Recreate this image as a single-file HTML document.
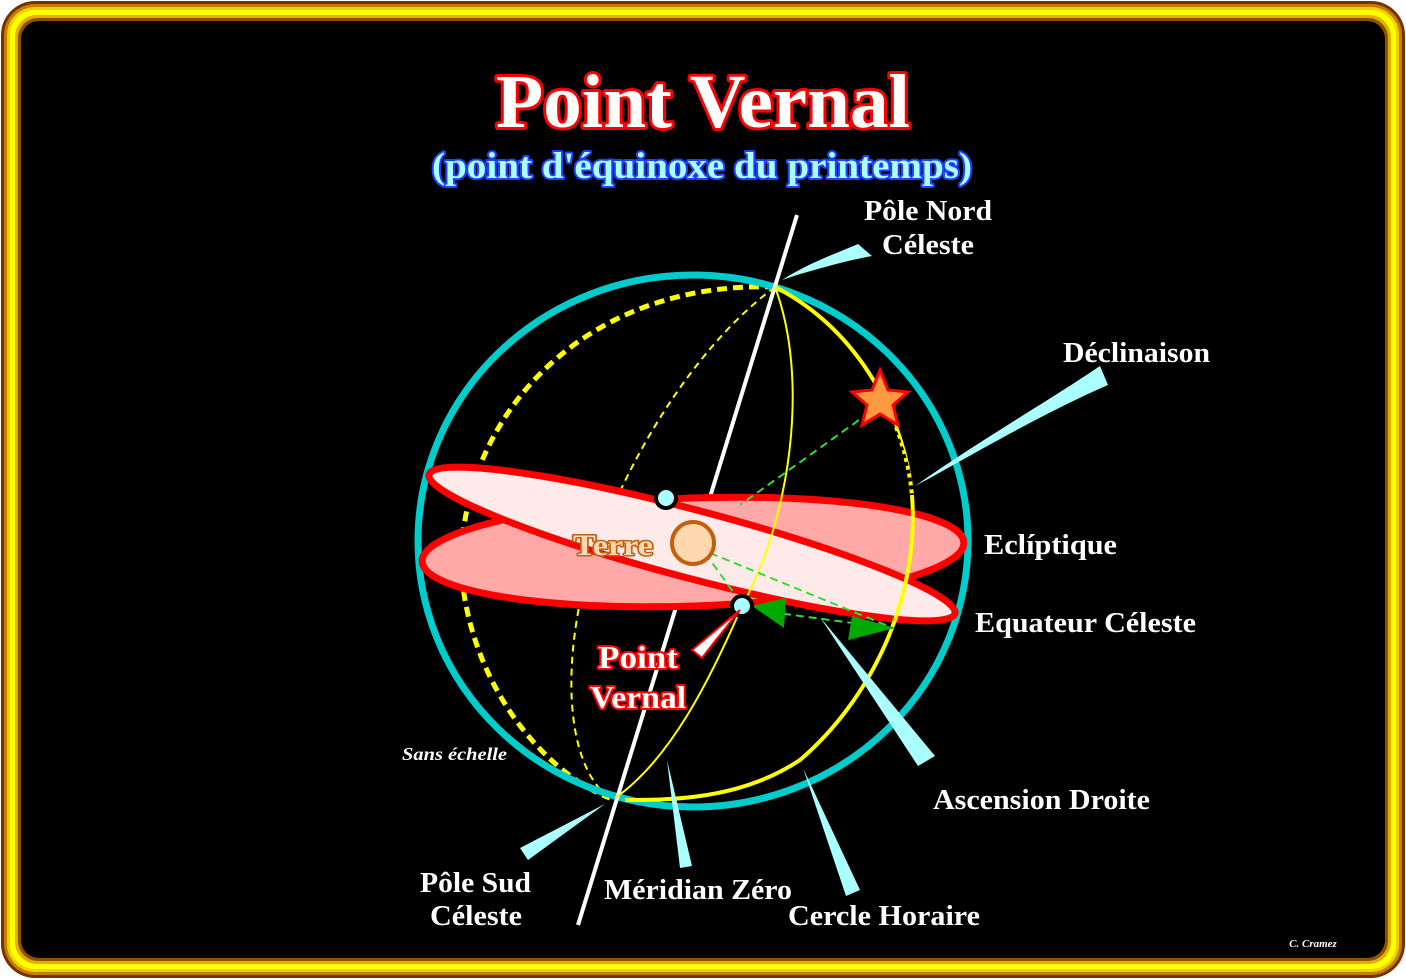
<!DOCTYPE html>
<html><head><meta charset="utf-8"><style>
html,body{margin:0;padding:0;background:#fff;}
svg{display:block;}
text{font-family:"Liberation Serif",serif;font-weight:bold;}
.o{paint-order:stroke fill;stroke-linejoin:round;}
</style></head><body>
<svg width="1406" height="979" viewBox="0 0 1406 979" xmlns="http://www.w3.org/2000/svg">
<rect x="0" y="0" width="1406" height="979" fill="#fff"/>
<rect x="1" y="1" width="1404" height="977" rx="34" fill="#7a3000"/>
<rect x="4" y="4" width="1398" height="971" rx="31" fill="#c08000"/>
<rect x="7" y="7" width="1392" height="965" rx="28" fill="#f0d000"/>
<rect x="10" y="10" width="1386" height="959" rx="25" fill="#ffff00"/>
<rect x="15" y="15" width="1376" height="949" rx="22" fill="#e0b000"/>
<rect x="18" y="18" width="1370" height="943" rx="20" fill="#905000"/>
<rect x="21" y="21" width="1364" height="937" rx="18" fill="#000"/>

<text class="o" x="703" y="127" font-size="76" fill="#fff" stroke="#ff0000" stroke-width="6" text-anchor="middle" textLength="414" lengthAdjust="spacingAndGlyphs">Point Vernal</text>
<text class="o" x="702" y="178" font-size="37" fill="#aaffff" stroke="#2040ff" stroke-width="4" text-anchor="middle" textLength="540" lengthAdjust="spacingAndGlyphs">(point d'équinoxe du printemps)</text>

<path d="M775,287 C560,280 440,450 465,600 C485,710 560,780 610,798" fill="none" stroke="#ffff00" stroke-width="5" stroke-dasharray="10,6"/>
<path d="M775,287 C690,350 620,470 585,580 C560,680 570,770 610,798" fill="none" stroke="#ffff00" stroke-width="2" stroke-dasharray="7,5"/>

<ellipse cx="693" cy="541" rx="275" ry="266" fill="none" stroke="#00cccc" stroke-width="7"/>

<line x1="797" y1="215" x2="578" y2="925" stroke="#fff" stroke-width="4"/>

<ellipse cx="693" cy="552" rx="271" ry="54" transform="rotate(-2 693 552)" fill="#ffa8a8" stroke="#ff0000" stroke-width="7"/>
<ellipse cx="692" cy="544" rx="272" ry="34" transform="rotate(14.8 692 544)" fill="#ffeaea" stroke="#ff0000" stroke-width="7"/>

<path d="M775,287 C860,330 905,420 912,495" fill="none" stroke="#ffff00" stroke-width="4"/>
<path d="M885,410 C900,440 910,470 912,495" fill="none" stroke="#000" stroke-width="4" stroke-dasharray="4,4"/>
<path d="M912,495 C920,600 870,700 800,760 C740,800 670,800 625,800" fill="none" stroke="#ffff00" stroke-width="4"/>
<path d="M775,287 C810,380 790,520 742,606 C710,680 670,760 615,798" fill="none" stroke="#ffff00" stroke-width="2"/>

<line x1="880" y1="405" x2="740" y2="505" stroke="#33dd33" stroke-width="2" stroke-dasharray="8,5"/>
<line x1="705" y1="553" x2="742" y2="604" stroke="#33dd33" stroke-width="2" stroke-dasharray="8,5"/>
<line x1="710" y1="553" x2="893" y2="628" stroke="#33dd33" stroke-width="2" stroke-dasharray="8,5"/>
<line x1="770" y1="612" x2="890" y2="628" stroke="#33dd33" stroke-width="2" stroke-dasharray="8,5"/>
<polygon points="752,606 786,598 784,628" fill="#00aa00"/>
<polygon points="895,628 852,616 848,640" fill="#00aa00"/>

<circle cx="666" cy="498" r="10" fill="#aaffff" stroke="#000" stroke-width="4"/>
<circle cx="742" cy="606" r="10" fill="#aaffff" stroke="#000" stroke-width="4"/>
<circle cx="693" cy="543" r="21" fill="#ffd8b0" stroke="#c06010" stroke-width="4"/>
<text class="o" x="613" y="555" font-size="30" fill="#ffd8b0" stroke="#c06010" stroke-width="3" text-anchor="middle" textLength="80" lengthAdjust="spacingAndGlyphs">Terre</text>

<polygon points="880,370 888,390 908,392 893,405 898,425 880,414 862,425 867,405 852,392 872,390" fill="#ff9a40" stroke="#ff0000" stroke-width="3"/>

<g fill="#aaffff">
<path d="M782,280 C810,262 840,252 858,244 L872,256 C840,262 815,270 800,274 Z"/>
<path d="M915,486 C980,440 1050,400 1100,366 L1108,385 C1050,410 980,450 930,478 Z"/>
<polygon points="820,617 918,766 935,756"/>
<polygon points="667,760 680,868 692,866"/>
<polygon points="803,768 846,896 860,890"/>
<polygon points="605,804 520,848 528,860"/>
</g>
<polygon points="740,610 692,650 702,658 716,640" fill="#fff" stroke="#ff0000" stroke-width="2"/>

<text class="o" x="638" y="668" font-size="32" fill="#fff" stroke="#ff0000" stroke-width="4" text-anchor="middle" textLength="80" lengthAdjust="spacingAndGlyphs">Point</text>
<text class="o" x="638" y="708" font-size="32" fill="#fff" stroke="#ff0000" stroke-width="4" text-anchor="middle" textLength="96" lengthAdjust="spacingAndGlyphs">Vernal</text>

<g fill="#fff" font-size="28">
<text x="864" y="220" textLength="128" lengthAdjust="spacingAndGlyphs">Pôle Nord</text>
<text x="882" y="254" textLength="92" lengthAdjust="spacingAndGlyphs">Céleste</text>
<text x="1063" y="362" textLength="147" lengthAdjust="spacingAndGlyphs">Déclinaison</text>
<text x="984" y="554" textLength="133" lengthAdjust="spacingAndGlyphs">Eclíptique</text>
<text x="975" y="632" textLength="221" lengthAdjust="spacingAndGlyphs">Equateur Céleste</text>
<text x="933" y="809" textLength="217" lengthAdjust="spacingAndGlyphs">Ascension Droite</text>
<text x="420" y="892" textLength="111" lengthAdjust="spacingAndGlyphs">Pôle Sud</text>
<text x="430" y="925" textLength="92" lengthAdjust="spacingAndGlyphs">Céleste</text>
<text x="604" y="899" textLength="188" lengthAdjust="spacingAndGlyphs">Méridian Zéro</text>
<text x="788" y="925" textLength="192" lengthAdjust="spacingAndGlyphs">Cercle Horaire</text>
</g>
<text x="402" y="760" font-size="18" font-style="italic" fill="#fff" textLength="105" lengthAdjust="spacingAndGlyphs">Sans échelle</text>
<text x="1313" y="947" font-size="11" font-style="italic" fill="#fff" text-anchor="middle">C. Cramez</text>
</svg>
</body></html>
